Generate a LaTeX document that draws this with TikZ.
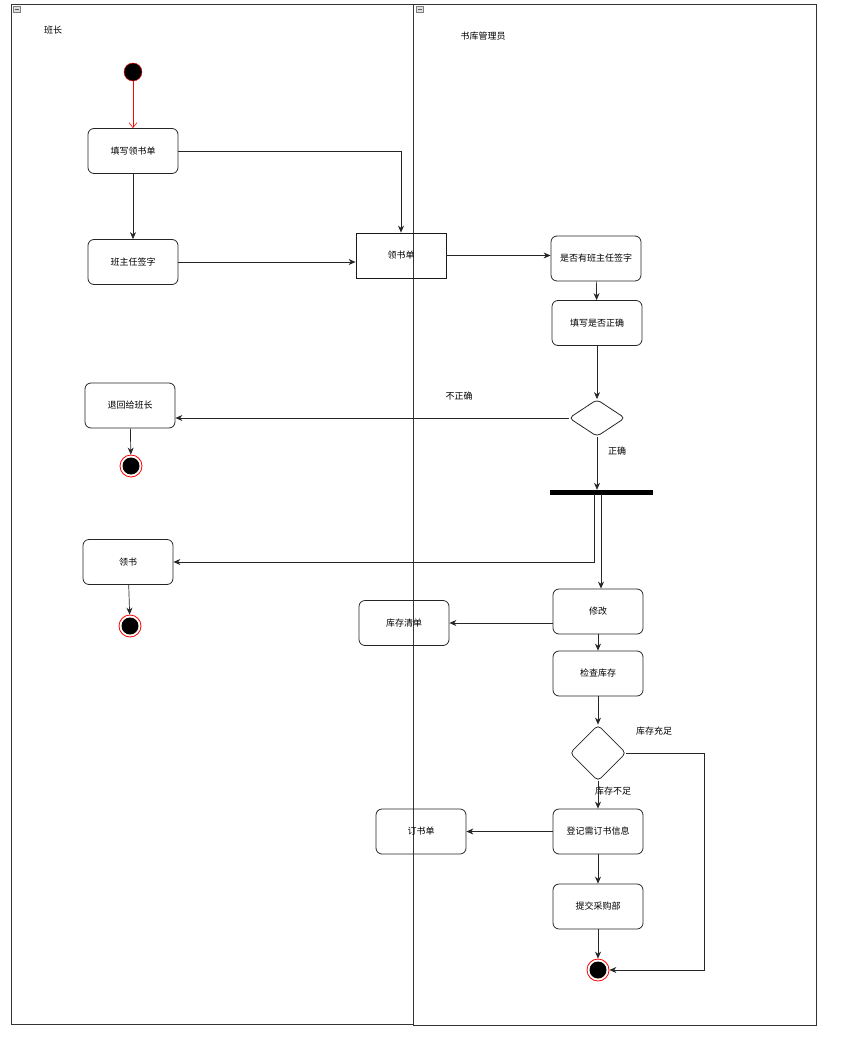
\documentclass[tikz,border=0pt]{standalone}
\usepackage{fontspec}
\setmainfont{Noto Sans CJK SC}
\usetikzlibrary{shapes.geometric,arrows.meta}
\tikzset{
  act/.style={draw=black!85, line width=0.8pt, rounded corners=6pt, minimum width=90pt, minimum height=45pt, inner sep=0pt, font=\fontsize{9pt}{10pt}\selectfont},
  obj/.style={draw=black!90, line width=0.8pt, minimum width=90pt, minimum height=45pt, inner sep=0pt, font=\fontsize{9pt}{10pt}\selectfont},
  dec/.style={draw=black!85, line width=0.8pt, diamond, rounded corners=4pt, inner sep=0pt},
  startst/.style={circle, draw=red, fill=black, minimum size=18pt, inner sep=0pt},
  endst/.style={circle, draw=red, line width=0.8pt, fill=white, minimum size=22pt, inner sep=0pt,
    path picture={\fill[black] (path picture bounding box.center) circle (8.5pt);}},
  lbl/.style={font=\fontsize{9pt}{10pt}\selectfont, inner sep=0pt},
  arr/.style={-{Stealth[length=7pt,width=6pt]}, line width=0.7pt, draw=black!85},
  lane/.style={draw=black!80, line width=0.9pt},
  icon/.style={draw=gray, fill=gray!25, line width=0.4pt}
}
\begin{document}
\begin{tikzpicture}[x=1pt,y=-1pt]
\useasboundingbox (0,0) rectangle (854,1051);
% swimlanes
\draw[lane] (11,4) rectangle (413,1024);
\draw[lane] (413,4) rectangle (816,1025);
\draw[icon] (13,6) rectangle (20,12);
\draw[gray!70!black] (14.5,9) -- (18.5,9);
\draw[icon] (416,6) rectangle (423,12);
\draw[gray!70!black] (417.5,9) -- (421.5,9);
\node[lbl] (t1) at (53,30) {班长};
\node[lbl] (t2) at (483,36) {书库管理员};
% nodes
\node[startst] (s) at (133,72) {};
\node[act] (a1) at (133,151) {填写领书单};
\node[act] (a2) at (133,262) {班主任签字};
\node[obj] (o1) at (401,255.5) {领书单};
\node[act] (b1) at (596,258.5) {是否有班主任签字};
\node[act] (b2) at (597,323) {填写是否正确};
\node[dec, minimum width=56pt, minimum height=37pt] (d1) at (597,418) {};
\node[act] (a3) at (130,405.5) {退回给班长};
\node[endst] (e1) at (131,466) {};
\node[lbl] (l1) at (459,396) {不正确};
\node[lbl] (l2) at (617,451) {正确};
\node[draw, fill=black, minimum width=102pt, minimum height=4pt, inner sep=0pt] (f) at (601,492) {};
\node[act] (a4) at (128,562) {领书};
\node[endst] (e2) at (130,626) {};
\node[act] (b3) at (598,611.5) {修改};
\node[act] (o2) at (404,623) {库存清单};
\node[act] (b4) at (598,673.5) {检查库存};
\node[dec, minimum width=56pt, minimum height=56pt] (d2) at (598,753) {};
\node[lbl] (l3) at (654,731) {库存充足};
\node[lbl] (l4) at (613,791) {库存不足};
\node[act] (b5) at (598,831.5) {登记需订书信息};
\node[act] (o3) at (421,831.5) {订书单};
\node[act] (b6) at (598,906.5) {提交采购部};
\node[endst] (e3) at (598,970) {};
% connectors
\draw[red, -{Straight Barb[length=5pt,width=8pt]}, line width=0.6pt] (s) -- (a1);
\draw[arr] (a1.east) -| (o1.north);
\draw[arr] (a1) -- (a2);
\draw[arr] (a2.east) -- (o1.west |- a2.east);
\draw[arr] (o1.east) -- (b1.west |- o1.east);
\draw[arr] (b1) -- (b2);
\draw[arr] (b2.south) -- (d1.north);
\draw[arr] (d1.west) -- (a3.east |- d1.west);
\draw[arr] (a3) -- (e1);
\draw[arr] (d1.south) -- (f.north -| d1.south);
\draw[arr] ([xshift=-7pt]f.south) |- (a4.east);
\draw[arr] (f.south) -- (f.south |- b3.north);
\draw[arr] (a4) -- (e2);
\draw[arr] (b3.west |- o2.east) -- (o2.east);
\draw[arr] (b3) -- (b4);
\draw[arr] (b4.south) -- (d2.north);
\draw[arr] (d2.south) -- (b5.north);
\draw[arr] (b5.west) -- (o3.east);
\draw[arr] (b5) -- (b6);
\draw[arr] (b6) -- (e3);
\draw[arr] (d2.east) -- (704,753) |- (e3.east);
\end{tikzpicture}
\end{document}
